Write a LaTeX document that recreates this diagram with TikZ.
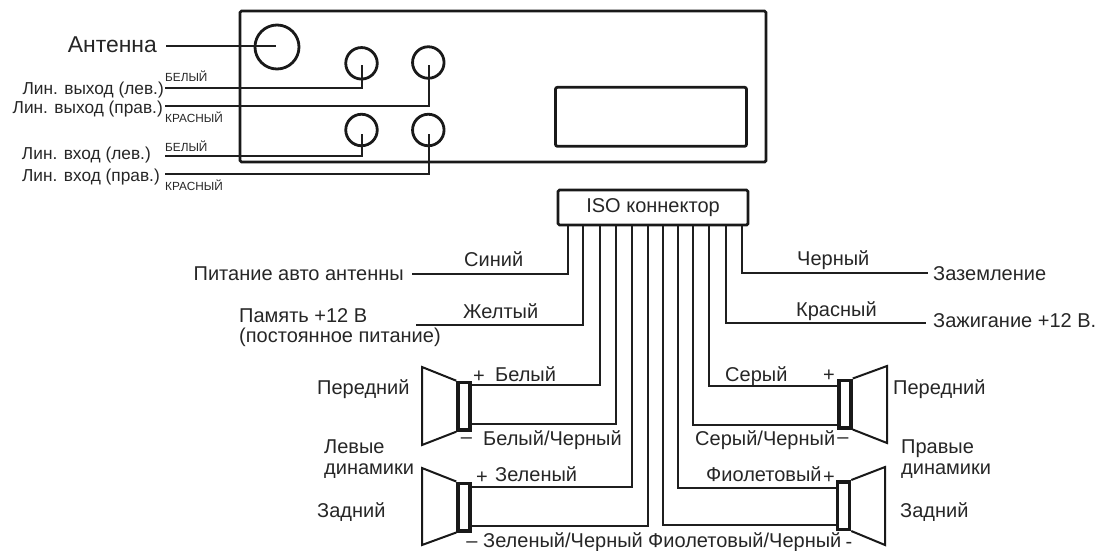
\documentclass[tikz,border=0pt]{standalone}
\usepackage{fontspec}
\setmainfont{Liberation Sans}
\tikzset{
  x=1pt,y=-1pt,
  wire/.style={line width=2pt,black!88,line join=miter},
  frame/.style={draw=black!90,line width=2.8pt,rounded corners=1.5pt,inner sep=0pt},
  jack/.style={circle,draw=black!90,line width=2.8pt,minimum size=31.5pt,inner sep=0pt},
  lbl/.style={inner sep=0pt,font=\fontsize{20}{22}\selectfont,text=black!85},
  lblr/.style={lbl,anchor=base east},
  lbll/.style={lbl,anchor=base west},
  linelbl/.style={inner sep=0pt,anchor=base east,font=\fontsize{17.3}{19}\selectfont,text=black!85},
  small/.style={inner sep=0pt,anchor=base west,font=\fontsize{11.8}{13}\selectfont,text=black!85},
  sign/.style={inner sep=0pt,font=\fontsize{20}{22}\selectfont,text=black!85},
  cone/.style={draw=black!90,line width=2pt,line join=miter},
  magnet/.style={draw=black!90,line width=3.5pt,fill=white,inner sep=0pt,minimum width=12pt,minimum height=47.5pt}
}
\begin{document}
\begin{tikzpicture}
\useasboundingbox (0,0) rectangle (1099,550);
% head unit
\node[frame,minimum width=526pt,minimum height=151pt] (unit) at (503,86.5) {};
\node[frame,rounded corners=2pt,minimum width=191pt,minimum height=59pt] (disp) at (651,116.8) {};
\node[circle,draw=black!90,line width=2.8pt,minimum size=44pt,inner sep=0pt] (ant) at (277,47) {};
\node[jack] (j1) at (361.5,63.3) {};
\node[jack] (j2) at (428.3,62.5) {};
\node[jack] (j3) at (361.5,130) {};
\node[jack] (j4) at (428.3,130) {};
\coordinate (jc1) at (362.3,65);\coordinate (jc2) at (429.3,65);
\coordinate (jc3) at (362.3,134);\coordinate (jc4) at (429.3,134);
\coordinate (a0) at (166,45.8);\coordinate (a1) at (276,45.8);
\coordinate (w1) at (165,87.5);\coordinate (w2) at (165,105.5);
\coordinate (w3) at (165,155.7);\coordinate (w4) at (165,174);
\draw[wire] (a0) -- (a1);
\draw[wire] (w1) -| (jc1);
\draw[wire] (w2) -| (jc2);
\draw[wire] (w3) -| (jc3);
\draw[wire] (w4) -| (jc4);
\node[lbl,anchor=base east,font=\fontsize{22.9}{24}\selectfont] (tA) at (157,52) {Антенна};
\node[linelbl] (t1) at (164,94) {Лин. выход (лев.)};
\node[linelbl] (t2) at (163,113.5) {Лин. выход (прав.)};
\node[linelbl] (t3) at (151,159.5) {Лин. вход (лев.)};
\node[linelbl] (t4) at (160,181.5) {Лин. вход (прав.)};
\node[small] (s1) at (165,81.7) {БЕЛЫЙ};
\node[small] (s2) at (165,122) {КРАСНЫЙ};
\node[small] (s3) at (165,151) {БЕЛЫЙ};
\node[small] (s4) at (165,190.7) {КРАСНЫЙ};
% ISO
\node[frame,minimum width=190pt,minimum height=35pt,font=\fontsize{20}{22}\selectfont,text=black!85] (iso) at (653,207.5) {ISO коннектор\hspace{4pt}};
\foreach \n/\x in {a/568,b/583,c/600,d/616,e/632,f/648,g/663,h/678,i/693,j/709,k/726,l/742}{
  \coordinate (p\n) at (\x,226);
}
% speakers
\node[magnet] (LF) at (464,406.2) {};
\node[magnet] (LR) at (464,507) {};
\node[magnet] (RF) at (845,404) {};
\node[magnet] (RR) at (843.5,505.5) {};
\draw[cone] (LF.north west) -- (422,367) -- (422,445) -- (LF.south west);
\draw[cone] (LR.north west) -- (422,468) -- (422,545) -- (LR.south west);
\draw[cone] (RF.north east) -- (887,366) -- (887,443) -- (RF.south east);
\draw[cone] (RR.north east) -- (885,467) -- (885,545) -- (RR.south east);
% wires
\coordinate (ea) at (412,274);\coordinate (eb) at (416,325);
\coordinate (el) at (928,273);\coordinate (ek) at (926,323);
\draw[wire] (pa) |- (ea);
\draw[wire] (pb) |- (eb);
\draw[wire] (pl) |- (el);
\draw[wire] (pk) |- (ek);
\draw[wire] (pc) |- (LF.east |- 0,385);
\draw[wire] (pd) |- (LF.east |- 0,424);
\draw[wire] (pe) |- (LR.east |- 0,487);
\draw[wire] (pf) |- (LR.east |- 0,526);
\draw[wire] (pj) |- (RF.west |- 0,386);
\draw[wire] (pi) |- (RF.west |- 0,425);
\draw[wire] (ph) |- (RR.west |- 0,488);
\draw[wire] (pg) |- (RR.west |- 0,525);
% labels
\node[lbll] (c1) at (464,266) {Синий};
\node[lbll] (c2) at (463,318) {Желтый};
\node[lbll] (c3) at (797,265) {Черный};
\node[lbll] (c4) at (796,316) {Красный};
\node[lblr] (n1) at (404,280) {Питание авто антенны};
\node[lbll] (n2) at (239,322) {Память +12 В};
\node[lbll] (n3) at (239,342) {(постоянное питание)};
\node[lbll] (n4) at (933,280) {Заземление};
\node[lbll] (n5) at (933,327) {Зажигание +12 В.};
\node[lbll] (d1) at (495,381) {Белый};
\node[lbll] (d2) at (483,445) {Белый/Черный};
\node[lbll] (d3) at (495,481) {Зеленый};
\node[lbll] (d4) at (483,547) {Зеленый/Черный};
\node[lbll] (d5) at (725,381) {Серый};
\node[lbll] (d6) at (695,445) {Серый/Черный};
\node[lbll] (d7) at (706,481) {Фиолетовый};
\node[lbll] (d8) at (648,547) {Фиолетовый/Черный};
\node[sign] (z1) at (479,377) {+};
\node[sign] (z2) at (466.5,441) {–};
\node[sign] (z3) at (482,478) {+};
\node[sign] (z4) at (472,545) {–};
\node[sign] (z5) at (829,376) {+};
\node[sign] (z6) at (843,441) {–};
\node[sign] (z7) at (829,478) {+};
\node[sign] (z8) at (849,545) {-};
\node[lbll] (l1) at (317,394) {Передний};
\node[lbll] (l2) at (324,453) {Левые};
\node[lbll] (l3) at (324,474) {динамики};
\node[lbll] (l4) at (317,517) {Задний};
\node[lbll] (r1) at (893,394) {Передний};
\node[lbll] (r2) at (901,453) {Правые};
\node[lbll] (r3) at (901,474) {динамики};
\node[lbll] (r4) at (900,517) {Задний};
\end{tikzpicture}
\end{document}
